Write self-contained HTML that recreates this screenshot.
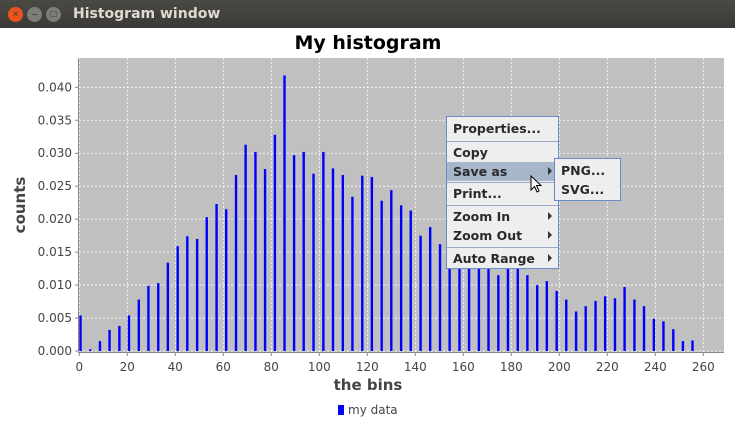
<!DOCTYPE html>
<html><head><meta charset="utf-8"><style>
body{margin:0;width:735px;height:423px;overflow:hidden;background:#fff;font-family:"Liberation Sans","DejaVu Sans",sans-serif;position:relative}
.tb{position:absolute;left:0;top:0;width:735px;height:28px;background:linear-gradient(#4a4944,#3b3a36);}
.btn{position:absolute;top:7px;width:15px;height:15px;border-radius:50%;font-size:10px;text-align:center;line-height:15px;color:#333}
.menu{position:absolute;background:#eeeeee;border:1px solid #6a8cc8;font-family:"DejaVu Sans",sans-serif;font-size:12.5px;font-weight:bold;color:#2a2a2a;box-sizing:border-box}
.mi{position:absolute;left:0;right:0;height:19px;line-height:19px;padding-left:6px}
.sep{position:absolute;left:0;right:0;height:1px;background:#9aa9c6}
.arr{position:absolute;right:6px;top:5px;width:0;height:0;border-left:4px solid #333;border-top:4px solid transparent;border-bottom:4px solid transparent}
</style></head><body>
<div class="tb">
<div class="btn" style="left:8px;background:#e9541f">×</div>
<div class="btn" style="left:27px;background:#7d7c77">–</div>
<div class="btn" style="left:46px;background:#7d7c77">□</div>
<div style="position:absolute;left:73px;top:6px;color:#dfdbd2;font-weight:bold;font-size:14px;font-family:'DejaVu Sans',sans-serif">Histogram window</div>
</div>
<svg id="chart" width="735" height="423" style="position:absolute;left:0;top:0">
<text x="368" y="49" text-anchor="middle" font-size="19" font-weight="bold" font-family="DejaVu Sans, sans-serif">My histogram</text>
<rect x="79" y="58" width="645" height="294" fill="#c0c0c0"/>
<g id="grid"></g><g id="bars"></g><g id="axes"></g>
<text x="368" y="390" text-anchor="middle" font-size="15" font-weight="bold" font-family="DejaVu Sans, sans-serif" fill="#444">the bins</text>
<text transform="translate(25,205) rotate(-90)" text-anchor="middle" font-size="15" font-weight="bold" font-family="DejaVu Sans, sans-serif" fill="#444">counts</text>
<g><rect x="338" y="405" width="6" height="10" fill="#0000ff"/><text x="348" y="414" font-size="12" font-family="DejaVu Sans, sans-serif" fill="#444">my data</text></g>
</svg>
<div class="menu" style="left:446px;top:116px;width:113px;height:153px">
<div class="mi" style="top:2px">Properties...</div>
<div class="sep" style="top:24px"></div>
<div class="mi" style="top:26px">Copy</div>
<div class="mi" style="top:45px;background:#a7b6cb">Save as<span class="arr"></span></div>
<div class="sep" style="top:65px"></div>
<div class="mi" style="top:67px">Print...</div>
<div class="sep" style="top:88px"></div>
<div class="mi" style="top:90px">Zoom In<span class="arr"></span></div>
<div class="mi" style="top:109px">Zoom Out<span class="arr"></span></div>
<div class="sep" style="top:130px"></div>
<div class="mi" style="top:132px">Auto Range<span class="arr"></span></div>
</div>
<div class="menu" style="left:554px;top:158px;width:67px;height:43px">
<div class="mi" style="top:2px">PNG...</div>
<div class="mi" style="top:21px">SVG...</div>
</div>
<svg width="14" height="20" style="position:absolute;left:530px;top:175px"><path d="M1 1 L1 15 L4.5 11.5 L7 17 L9 16 L6.5 10.5 L11 10.5 Z" fill="#fff" stroke="#000" stroke-width="1"/></svg>
<script>
const binCenters=[0,4.05,8.1,12.1,16.2,20.2,24.3,28.3,32.4,36.4,40.5,44.5,48.6,52.6,56.7,60.7,64.8,68.8,72.9,76.9,81,85,89,93,97.1,101.2,105.2,109.3,113.3,117.4,121.4,125.5,129.5,133.6,137.6,141.7,145.7,149.8,153.8,157.9,161.9,166,170,174.1,178.1,182.2,186.2,190.3,194.3,198.4,202.4,206.5,210.5,214.6,218.6,222.7,226.7,230.8,234.8,238.9,242.9,247,251,255];
const counts=[0.0054,0.00025,0.0015,0.0032,0.0038,0.0054,0.0078,0.0099,0.0103,0.0134,0.0159,0.0174,0.0170,0.0203,0.0223,0.0215,0.0267,0.0313,0.0302,0.0276,0.0328,0.0418,0.0297,0.0302,0.0269,0.0302,0.0277,0.0267,0.0234,0.0266,0.0264,0.0228,0.0244,0.0221,0.0213,0.0175,0.0188,0.0162,0.0140,0.0130,0.0135,0.0125,0.0130,0.0115,0.0125,0.0125,0.0115,0.0100,0.0106,0.0091,0.0078,0.0060,0.0068,0.0076,0.0083,0.0080,0.0097,0.0078,0.0068,0.0049,0.0045,0.0033,0.0015,0.0016];
const xTicks=[0,20,40,60,80,100,120,140,160,180,200,220,240,260];
const yTicks=[0,0.005,0.01,0.015,0.02,0.025,0.03,0.035,0.04];
const NS='http://www.w3.org/2000/svg';
function xs(v){return 79.3+v*2.4;}
function ys(v){return 351-v*6592;}
function mk(t,a,p){const e=document.createElementNS(NS,t);for(const k in a)e.setAttribute(k,a[k]);p.appendChild(e);return e;}
const grid=document.getElementById('grid'),bars=document.getElementById('bars'),axes=document.getElementById('axes');
xTicks.forEach(t=>{const x=xs(t);
 const g=mk('line',{x1:x,x2:x,y1:58,y2:352,stroke:'#fff','stroke-width':0.8,'stroke-dasharray':'2,2'},grid);
 
 
 mk('line',{x1:x,x2:x,y1:352,y2:356,stroke:'#888'},axes);
 const l=mk('text',{x:x,y:371,'text-anchor':'middle','font-size':12,'font-family':'DejaVu Sans, sans-serif',fill:'#444'},axes);l.textContent=t;
 
 });
yTicks.forEach(t=>{const y=ys(t);
 const g=mk('line',{x1:79,x2:724,y1:y,y2:y,stroke:'#fff','stroke-width':0.8,'stroke-dasharray':'2,2'},grid);
 
 
 mk('line',{x1:75,x2:79,y1:y,y2:y,stroke:'#888'},axes);
 const l=mk('text',{x:72,y:y+4,'text-anchor':'end','font-size':12,'font-family':'DejaVu Sans, sans-serif',fill:'#444'},axes);l.textContent=t.toFixed(3);
 
 });
mk('line',{x1:78.5,x2:78.5,y1:58,y2:352,stroke:'#888'},axes);
mk('line',{x1:78,x2:724,y1:352.5,y2:352.5,stroke:'#888'},axes);
binCenters.forEach((c,i)=>{const x=xs(c),y=ys(counts[i]);
 const b=mk('rect',{x:x,y:y,width:2.4,height:351-y,fill:'#0000ff'},bars);
 
 });
</script>
</body></html>
